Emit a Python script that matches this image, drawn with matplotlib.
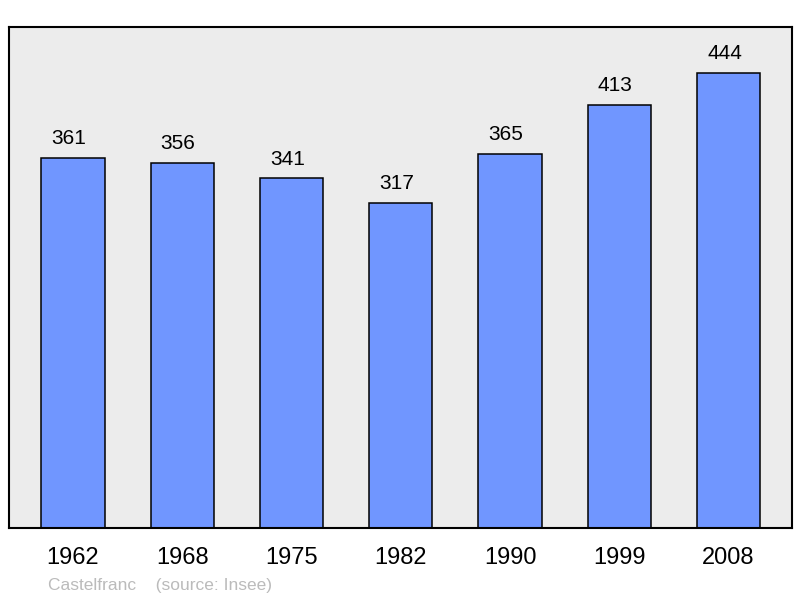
import matplotlib.pyplot as plt

years = ["1962", "1968", "1975", "1982", "1990", "1999", "2008"]
population = [361, 356, 341, 317, 365, 413, 444]

plt.rcParams['font.family'] = ['Liberation Sans', 'DejaVu Sans']

fig = plt.figure(figsize=(8, 5.98), dpi=100)
ax = fig.add_axes([9/800, 1 - 528/598, 783/800, 501/598])
ax.set_facecolor("#ececec")

x = range(len(years))
ax.bar(x, population, width=0.58, color="#7096ff", edgecolor="black", linewidth=1.1, zorder=2)
for i, v in zip(x, population):
    ax.annotate(str(v), (i, v), xytext=(-3, 10), textcoords="offset points",
                ha="center", va="baseline", fontsize=15)

ax.set_xlim(-0.585, 6.58)
ax.set_ylim(0, 488.8)
ax.set_xticks(list(x))
ax.set_xticklabels(years, fontsize=17)
ax.set_yticks([])
ax.tick_params(axis="x", length=0, pad=13.5)
for s in ax.spines.values():
    s.set_linewidth(1.5)

fig.text(48/800, 1 - 590/598, "Castelfranc    (source: Insee)", color="#bbbbbb",
         fontsize=12.5, va="baseline")

fig.savefig("out.png", dpi=100)
